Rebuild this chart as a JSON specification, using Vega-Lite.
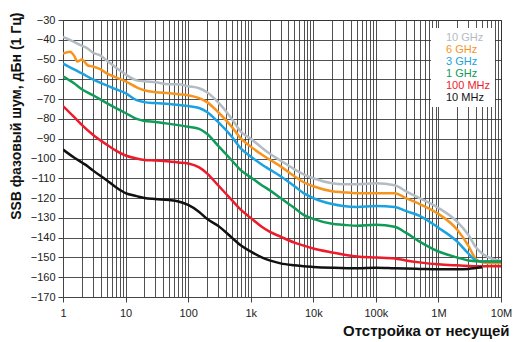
{
  "$schema": "https://vega.github.io/schema/vega-lite/v6.json",
  "autosize": "none",
  "width": 438,
  "height": 277,
  "padding": {"left": 63, "top": 20, "right": 14, "bottom": 45},
  "background": "white",
  "config": {
    "view": {"stroke": "#444", "strokeWidth": 1},
    "font": "Liberation Sans"
  },
  "datasets": {
    "pn": [
      {"f": 1, "v": -38.5, "s": "10 GHz"}, {"f": 1.5, "v": -41, "s": "10 GHz"}, {"f": 2, "v": -43, "s": "10 GHz"}, {"f": 2.5, "v": -44.5, "s": "10 GHz"}, {"f": 3, "v": -46.5, "s": "10 GHz"}, {"f": 4, "v": -48, "s": "10 GHz"}, {"f": 5, "v": -50.5, "s": "10 GHz"}, {"f": 7, "v": -54, "s": "10 GHz"}, {"f": 10, "v": -57.5, "s": "10 GHz"}, {"f": 15, "v": -60.5, "s": "10 GHz"}, {"f": 20, "v": -61, "s": "10 GHz"}, {"f": 30, "v": -61.5, "s": "10 GHz"}, {"f": 50, "v": -62.5, "s": "10 GHz"}, {"f": 70, "v": -62.5, "s": "10 GHz"}, {"f": 100, "v": -63.5, "s": "10 GHz"}, {"f": 150, "v": -64.5, "s": "10 GHz"}, {"f": 200, "v": -66.5, "s": "10 GHz"}, {"f": 300, "v": -71.5, "s": "10 GHz"}, {"f": 500, "v": -80, "s": "10 GHz"}, {"f": 700, "v": -86.5, "s": "10 GHz"}, {"f": 1000, "v": -90, "s": "10 GHz"}, {"f": 1500, "v": -94.5, "s": "10 GHz"}, {"f": 2000, "v": -97.5, "s": "10 GHz"}, {"f": 3000, "v": -101, "s": "10 GHz"}, {"f": 5000, "v": -105.5, "s": "10 GHz"}, {"f": 7000, "v": -108, "s": "10 GHz"}, {"f": 10000, "v": -110, "s": "10 GHz"}, {"f": 20000, "v": -112.5, "s": "10 GHz"}, {"f": 30000, "v": -113, "s": "10 GHz"}, {"f": 50000, "v": -113, "s": "10 GHz"}, {"f": 100000, "v": -112.5, "s": "10 GHz"}, {"f": 200000, "v": -113.5, "s": "10 GHz"}, {"f": 300000, "v": -116.5, "s": "10 GHz"}, {"f": 500000, "v": -120, "s": "10 GHz"}, {"f": 1000000, "v": -125, "s": "10 GHz"}, {"f": 2000000, "v": -132, "s": "10 GHz"}, {"f": 3000000, "v": -138.5, "s": "10 GHz"}, {"f": 4000000, "v": -145, "s": "10 GHz"}, {"f": 5000000, "v": -148, "s": "10 GHz"}, {"f": 7000000, "v": -150.5, "s": "10 GHz"}, {"f": 10000000, "v": -152, "s": "10 GHz"},

      {"f": 1, "v": -47, "s": "6 GHz"}, {"f": 1.3, "v": -46, "s": "6 GHz"}, {"f": 1.5, "v": -48, "s": "6 GHz"}, {"f": 1.7, "v": -51, "s": "6 GHz"}, {"f": 2, "v": -50, "s": "6 GHz"}, {"f": 2.5, "v": -53, "s": "6 GHz"}, {"f": 3, "v": -53.5, "s": "6 GHz"}, {"f": 4, "v": -55, "s": "6 GHz"}, {"f": 5, "v": -57, "s": "6 GHz"}, {"f": 7, "v": -59, "s": "6 GHz"}, {"f": 10, "v": -61, "s": "6 GHz"}, {"f": 15, "v": -64, "s": "6 GHz"}, {"f": 20, "v": -65.5, "s": "6 GHz"}, {"f": 30, "v": -66.5, "s": "6 GHz"}, {"f": 50, "v": -67, "s": "6 GHz"}, {"f": 70, "v": -67.5, "s": "6 GHz"}, {"f": 100, "v": -68, "s": "6 GHz"}, {"f": 150, "v": -69.5, "s": "6 GHz"}, {"f": 200, "v": -71.5, "s": "6 GHz"}, {"f": 300, "v": -76.5, "s": "6 GHz"}, {"f": 500, "v": -84, "s": "6 GHz"}, {"f": 700, "v": -90, "s": "6 GHz"}, {"f": 1000, "v": -94, "s": "6 GHz"}, {"f": 1500, "v": -98, "s": "6 GHz"}, {"f": 2000, "v": -100.5, "s": "6 GHz"}, {"f": 3000, "v": -104, "s": "6 GHz"}, {"f": 5000, "v": -109, "s": "6 GHz"}, {"f": 7000, "v": -112, "s": "6 GHz"}, {"f": 10000, "v": -114, "s": "6 GHz"}, {"f": 20000, "v": -116.5, "s": "6 GHz"}, {"f": 30000, "v": -117, "s": "6 GHz"}, {"f": 50000, "v": -117.5, "s": "6 GHz"}, {"f": 100000, "v": -117.5, "s": "6 GHz"}, {"f": 200000, "v": -117.5, "s": "6 GHz"}, {"f": 300000, "v": -120, "s": "6 GHz"}, {"f": 500000, "v": -123, "s": "6 GHz"}, {"f": 1000000, "v": -128, "s": "6 GHz"}, {"f": 2000000, "v": -136, "s": "6 GHz"}, {"f": 3000000, "v": -144, "s": "6 GHz"}, {"f": 4000000, "v": -151, "s": "6 GHz"}, {"f": 5000000, "v": -152.5, "s": "6 GHz"}, {"f": 7000000, "v": -153, "s": "6 GHz"}, {"f": 10000000, "v": -153, "s": "6 GHz"},

      {"f": 1, "v": -52, "s": "3 GHz"}, {"f": 1.5, "v": -55, "s": "3 GHz"}, {"f": 2, "v": -57, "s": "3 GHz"}, {"f": 3, "v": -60, "s": "3 GHz"}, {"f": 5, "v": -63, "s": "3 GHz"}, {"f": 7, "v": -65, "s": "3 GHz"}, {"f": 10, "v": -67, "s": "3 GHz"}, {"f": 15, "v": -70.5, "s": "3 GHz"}, {"f": 20, "v": -71.5, "s": "3 GHz"}, {"f": 30, "v": -72, "s": "3 GHz"}, {"f": 50, "v": -72.5, "s": "3 GHz"}, {"f": 100, "v": -73.5, "s": "3 GHz"}, {"f": 150, "v": -74.5, "s": "3 GHz"}, {"f": 200, "v": -76.5, "s": "3 GHz"}, {"f": 300, "v": -81.5, "s": "3 GHz"}, {"f": 500, "v": -89, "s": "3 GHz"}, {"f": 700, "v": -95, "s": "3 GHz"}, {"f": 1000, "v": -99, "s": "3 GHz"}, {"f": 1500, "v": -103, "s": "3 GHz"}, {"f": 2000, "v": -105.5, "s": "3 GHz"}, {"f": 3000, "v": -109, "s": "3 GHz"}, {"f": 5000, "v": -114, "s": "3 GHz"}, {"f": 7000, "v": -117.5, "s": "3 GHz"}, {"f": 10000, "v": -120, "s": "3 GHz"}, {"f": 20000, "v": -123, "s": "3 GHz"}, {"f": 30000, "v": -124, "s": "3 GHz"}, {"f": 50000, "v": -124.5, "s": "3 GHz"}, {"f": 100000, "v": -124, "s": "3 GHz"}, {"f": 200000, "v": -124.5, "s": "3 GHz"}, {"f": 300000, "v": -126.5, "s": "3 GHz"}, {"f": 500000, "v": -129, "s": "3 GHz"}, {"f": 1000000, "v": -135, "s": "3 GHz"}, {"f": 2000000, "v": -142, "s": "3 GHz"}, {"f": 3000000, "v": -148, "s": "3 GHz"}, {"f": 4000000, "v": -151.5, "s": "3 GHz"}, {"f": 5000000, "v": -152, "s": "3 GHz"}, {"f": 10000000, "v": -152, "s": "3 GHz"},

      {"f": 1, "v": -58.5, "s": "1 GHz"}, {"f": 1.5, "v": -62, "s": "1 GHz"}, {"f": 2, "v": -65, "s": "1 GHz"}, {"f": 3, "v": -68, "s": "1 GHz"}, {"f": 5, "v": -72, "s": "1 GHz"}, {"f": 7, "v": -74.5, "s": "1 GHz"}, {"f": 10, "v": -77, "s": "1 GHz"}, {"f": 15, "v": -80, "s": "1 GHz"}, {"f": 20, "v": -81, "s": "1 GHz"}, {"f": 30, "v": -81.5, "s": "1 GHz"}, {"f": 50, "v": -82.5, "s": "1 GHz"}, {"f": 100, "v": -84, "s": "1 GHz"}, {"f": 150, "v": -85, "s": "1 GHz"}, {"f": 200, "v": -87.5, "s": "1 GHz"}, {"f": 300, "v": -93.5, "s": "1 GHz"}, {"f": 500, "v": -101, "s": "1 GHz"}, {"f": 700, "v": -106, "s": "1 GHz"}, {"f": 1000, "v": -109.5, "s": "1 GHz"}, {"f": 1500, "v": -113.5, "s": "1 GHz"}, {"f": 2000, "v": -116, "s": "1 GHz"}, {"f": 3000, "v": -120, "s": "1 GHz"}, {"f": 5000, "v": -125, "s": "1 GHz"}, {"f": 7000, "v": -128.5, "s": "1 GHz"}, {"f": 10000, "v": -130.5, "s": "1 GHz"}, {"f": 20000, "v": -133, "s": "1 GHz"}, {"f": 30000, "v": -133.5, "s": "1 GHz"}, {"f": 50000, "v": -134, "s": "1 GHz"}, {"f": 100000, "v": -133.5, "s": "1 GHz"}, {"f": 200000, "v": -134.5, "s": "1 GHz"}, {"f": 300000, "v": -137.5, "s": "1 GHz"}, {"f": 500000, "v": -142, "s": "1 GHz"}, {"f": 1000000, "v": -147, "s": "1 GHz"}, {"f": 2000000, "v": -150, "s": "1 GHz"}, {"f": 3000000, "v": -151.5, "s": "1 GHz"}, {"f": 5000000, "v": -152, "s": "1 GHz"}, {"f": 10000000, "v": -152, "s": "1 GHz"},

      {"f": 1, "v": -73.5, "s": "100 MHz"}, {"f": 1.5, "v": -79, "s": "100 MHz"}, {"f": 2, "v": -83, "s": "100 MHz"}, {"f": 3, "v": -88, "s": "100 MHz"}, {"f": 5, "v": -93, "s": "100 MHz"}, {"f": 7, "v": -96, "s": "100 MHz"}, {"f": 10, "v": -98.5, "s": "100 MHz"}, {"f": 15, "v": -100, "s": "100 MHz"}, {"f": 20, "v": -100.7, "s": "100 MHz"}, {"f": 30, "v": -101, "s": "100 MHz"}, {"f": 50, "v": -101.5, "s": "100 MHz"}, {"f": 70, "v": -102, "s": "100 MHz"}, {"f": 100, "v": -102.5, "s": "100 MHz"}, {"f": 150, "v": -104.5, "s": "100 MHz"}, {"f": 200, "v": -107.5, "s": "100 MHz"}, {"f": 300, "v": -113.5, "s": "100 MHz"}, {"f": 500, "v": -121, "s": "100 MHz"}, {"f": 700, "v": -126, "s": "100 MHz"}, {"f": 1000, "v": -130, "s": "100 MHz"}, {"f": 1500, "v": -134.5, "s": "100 MHz"}, {"f": 2000, "v": -137, "s": "100 MHz"}, {"f": 3000, "v": -139.5, "s": "100 MHz"}, {"f": 5000, "v": -142.5, "s": "100 MHz"}, {"f": 7000, "v": -144, "s": "100 MHz"}, {"f": 10000, "v": -145.5, "s": "100 MHz"}, {"f": 20000, "v": -147.5, "s": "100 MHz"}, {"f": 30000, "v": -148.5, "s": "100 MHz"}, {"f": 50000, "v": -149.5, "s": "100 MHz"}, {"f": 100000, "v": -150, "s": "100 MHz"}, {"f": 200000, "v": -150.5, "s": "100 MHz"}, {"f": 300000, "v": -151.5, "s": "100 MHz"}, {"f": 500000, "v": -152.5, "s": "100 MHz"}, {"f": 1000000, "v": -153.5, "s": "100 MHz"}, {"f": 2000000, "v": -154, "s": "100 MHz"}, {"f": 5000000, "v": -154.5, "s": "100 MHz"}, {"f": 10000000, "v": -154.5, "s": "100 MHz"},

      {"f": 1, "v": -95.5, "s": "10 MHz"}, {"f": 1.5, "v": -99.5, "s": "10 MHz"}, {"f": 2, "v": -102, "s": "10 MHz"}, {"f": 2.5, "v": -104, "s": "10 MHz"}, {"f": 3, "v": -106, "s": "10 MHz"}, {"f": 5, "v": -111, "s": "10 MHz"}, {"f": 7, "v": -114.5, "s": "10 MHz"}, {"f": 10, "v": -117.5, "s": "10 MHz"}, {"f": 15, "v": -119, "s": "10 MHz"}, {"f": 20, "v": -120, "s": "10 MHz"}, {"f": 30, "v": -120.5, "s": "10 MHz"}, {"f": 50, "v": -121, "s": "10 MHz"}, {"f": 70, "v": -121.7, "s": "10 MHz"}, {"f": 100, "v": -123.5, "s": "10 MHz"}, {"f": 150, "v": -127, "s": "10 MHz"}, {"f": 200, "v": -130.5, "s": "10 MHz"}, {"f": 300, "v": -134, "s": "10 MHz"}, {"f": 500, "v": -140, "s": "10 MHz"}, {"f": 700, "v": -144, "s": "10 MHz"}, {"f": 1000, "v": -147, "s": "10 MHz"}, {"f": 1500, "v": -150, "s": "10 MHz"}, {"f": 2000, "v": -151.5, "s": "10 MHz"}, {"f": 3000, "v": -153, "s": "10 MHz"}, {"f": 5000, "v": -154, "s": "10 MHz"}, {"f": 7000, "v": -154.5, "s": "10 MHz"}, {"f": 10000, "v": -154.8, "s": "10 MHz"}, {"f": 20000, "v": -155.2, "s": "10 MHz"}, {"f": 50000, "v": -155.5, "s": "10 MHz"}, {"f": 100000, "v": -155.2, "s": "10 MHz"}, {"f": 200000, "v": -155.5, "s": "10 MHz"}, {"f": 500000, "v": -155.8, "s": "10 MHz"}, {"f": 1000000, "v": -156, "s": "10 MHz"}, {"f": 2000000, "v": -156, "s": "10 MHz"}, {"f": 3000000, "v": -155.8, "s": "10 MHz"}, {"f": 5000000, "v": -155, "s": "10 MHz"}
    ]
  },
  "data": {"name": "pn"},
  "mark": {"type": "line", "strokeWidth": 2.5, "interpolate": "monotone", "clip": true},
  "encoding": {
    "x": {
      "field": "f",
      "type": "quantitative",
      "scale": {"type": "log", "domain": [1, 10000000], "nice": false},
      "axis": {
        "title": "Отстройка от несущей",
        "titleFont": "Liberation Sans",
        "titleFontSize": 15,
        "titleFontWeight": "bold",
        "titleColor": "#111",
        "titleAlign": "right",
        "titleBaseline": "alphabetic",
        "titleX": 446,
        "titleY": 38,
        "values": [1,2,3,4,5,6,7,8,9,10,20,30,40,50,60,70,80,90,100,200,300,400,500,600,700,800,900,1000,2000,3000,4000,5000,6000,7000,8000,9000,10000,20000,30000,40000,50000,60000,70000,80000,90000,100000,200000,300000,400000,500000,600000,700000,800000,900000,1000000,2000000,3000000,4000000,5000000,6000000,7000000,8000000,9000000,10000000],
        "labelExpr": "datum.value == 1 ? '1' : datum.value == 10 ? '10' : datum.value == 100 ? '100' : datum.value == 1000 ? '1k' : datum.value == 10000 ? '10k' : datum.value == 100000 ? '100k' : datum.value == 1000000 ? '1M' : datum.value == 10000000 ? '10M' : ''",
        "labelFont": "Liberation Sans",
        "labelFontSize": 11,
        "labelColor": "#222",
        "labelPadding": 5,
        "labelFlush": false,
        "labelOverlap": false,
        "grid": true,
        "gridColor": "#333333",
        "gridOpacity": 0.85,
        "gridWidth": 1,
        "domainColor": "#444",
        "tickColor": "#444",
        "tickSize": 5,
        "tickOpacity": {"condition": {"test": "indexof([1,10,100,1000,10000,100000,1000000,10000000], datum.value) >= 0", "value": 1}, "value": 0}
      }
    },
    "y": {
      "field": "v",
      "type": "quantitative",
      "scale": {"domain": [-170, -30], "nice": false},
      "axis": {
        "title": "SSB фазовый шум, дБн (1 Гц)",
        "titleFont": "Liberation Sans",
        "titleFontSize": 14,
        "titleFontWeight": "bold",
        "titleColor": "#111",
        "titleAnchor": "end",
        "titleAlign": "right",
        "titleY": -8,
        "titleX": -40,
        "values": [-170,-160,-150,-140,-130,-120,-110,-100,-90,-80,-70,-60,-50,-40,-30],
        "labelFont": "Liberation Sans",
        "labelFontSize": 11,
        "labelColor": "#222",
        "labelPadding": 3,
        "grid": true,
        "gridColor": "#333333",
        "gridOpacity": 0.85,
        "gridWidth": 1,
        "domainColor": "#444",
        "tickColor": "#444",
        "tickSize": 5
      }
    },
    "color": {
      "field": "s",
      "type": "nominal",
      "sort": ["10 GHz", "6 GHz", "3 GHz", "1 GHz", "100 MHz", "10 MHz"],
      "scale": {
        "domain": ["10 GHz", "6 GHz", "3 GHz", "1 GHz", "100 MHz", "10 MHz"],
        "range": ["#b3bcc3", "#f7941d", "#1aa3e0", "#0f9b58", "#ec1c2a", "#111111"]
      },
      "legend": {
        "title": null,
        "orient": "none",
        "legendX": 368,
        "legendY": 8,
        "fillColor": "white",
        "padding": 4,
        "symbolSize": 0,
        "symbolOpacity": 0,
        "symbolStrokeWidth": 0,
        "labelOffset": 0,
        "labelFont": "Liberation Sans",
        "labelFontSize": 11,
        "rowPadding": 0,
        "encode": {"labels": {"update": {"fill": {"scale": "color", "field": "value"}}}}
      }
    }
  }
}
